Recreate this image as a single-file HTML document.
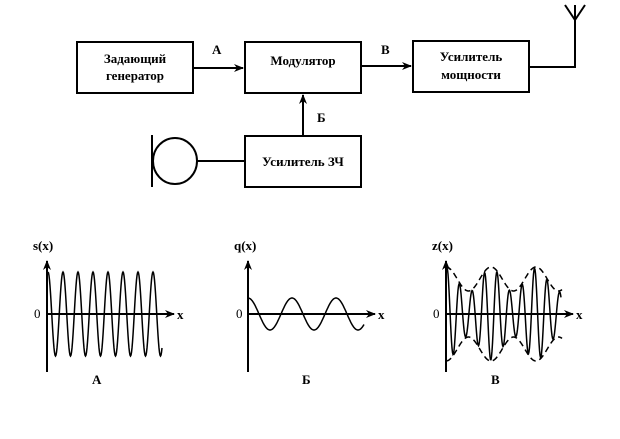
<!DOCTYPE html>
<html><head><meta charset="utf-8"><style>
html,body{margin:0;padding:0;background:#fff;width:620px;height:439px;overflow:hidden}
svg{display:block}
text{font-family:"Liberation Serif","DejaVu Serif",serif;font-weight:bold;font-size:13px;fill:#000}
</style></head><body>
<svg id="s" width="620" height="439" viewBox="0 0 620 439">
<defs><marker id="ar" markerWidth="10" markerHeight="8" refX="9" refY="4" orient="auto" markerUnits="userSpaceOnUse"><path d="M0,0 L10,4 L0,8 L3,4 Z" fill="#000"/></marker></defs>
<g fill="none" stroke="#000" stroke-width="2">
<rect x="77" y="42" width="116" height="51"/>
<rect x="245" y="42" width="116" height="51"/>
<rect x="413" y="41" width="116" height="51"/>
<rect x="245" y="136" width="116" height="51"/>
<line x1="193" y1="68" x2="243" y2="68" marker-end="url(#ar)"/>
<line x1="361" y1="66" x2="411" y2="66" marker-end="url(#ar)"/>
<line x1="303" y1="136" x2="303" y2="95" marker-end="url(#ar)"/>
<polyline points="529,67 575,67 575,5"/>
<polyline points="565,5 575,20 585,5"/>
<line x1="152" y1="135" x2="152" y2="187"/>
<ellipse cx="175" cy="161" rx="22" ry="23"/>
<line x1="197" y1="161" x2="245" y2="161"/>
</g>
<text x="135" y="63" text-anchor="middle">Задающий</text>
<text x="135" y="80" text-anchor="middle">генератор</text>
<text x="303" y="65" text-anchor="middle">Модулятор</text>
<text x="471" y="61" text-anchor="middle">Усилитель</text>
<text x="471" y="79" text-anchor="middle">мощности</text>
<text x="303" y="166" text-anchor="middle">Усилитель ЗЧ</text>
<text x="212" y="54">А</text>
<text x="381" y="54">В</text>
<text x="317" y="122">Б</text>
<g fill="none" stroke="#000" stroke-width="2">
<line x1="47" y1="372" x2="47" y2="261" marker-end="url(#ar)"/>
<line x1="47" y1="314" x2="174" y2="314" marker-end="url(#ar)"/>
<line x1="248" y1="372" x2="248" y2="261" marker-end="url(#ar)"/>
<line x1="248" y1="314" x2="375" y2="314" marker-end="url(#ar)"/>
<line x1="446" y1="372" x2="446" y2="261" marker-end="url(#ar)"/>
<line x1="446" y1="314" x2="573" y2="314" marker-end="url(#ar)"/>
</g>
<g id="w" fill="none" stroke="#000" stroke-width="1.5"></g>
<text x="33" y="250">s(x)</text>
<text x="234" y="250">q(x)</text>
<text x="432" y="250">z(x)</text>
<text x="34" y="318" style="font-weight:normal">0</text>
<text x="236" y="318" style="font-weight:normal">0</text>
<text x="433" y="318" style="font-weight:normal">0</text>
<text x="177" y="319">x</text>
<text x="378" y="319">x</text>
<text x="576" y="319">x</text>
<text x="92" y="384">А</text>
<text x="302" y="384">Б</text>
<text x="491" y="384">В</text>
</svg>
<script>
var g=document.getElementById('w');
function add(d,dash){var p=document.createElementNS('http://www.w3.org/2000/svg','path');p.setAttribute('d',d);if(dash)p.setAttribute('stroke-dasharray','6,4');g.appendChild(p);}
function path(f,a,b){var d='';for(var x=a;x<=b;x+=0.5){d+=(x==a?'M':'L')+x.toFixed(1)+','+f(x).toFixed(1)+' ';}return d;}
var P=2*Math.PI;
add(path(function(x){return 314-42*Math.cos(P*(x-48)/15)},48,162));
add(path(function(x){return 314-16*Math.cos(P*(x-248)/44)},248,364));
function env(x){return 34+12*Math.cos(P*(x-446)/45)}
add(path(function(x){return 314-env(x)*Math.cos(P*(x-447)/12.5)},447,561));
add(path(function(x){return 314-env(x)-1},446,562),1);
add(path(function(x){return 314+env(x)+1},446,562),1);
</script>
</body></html>
